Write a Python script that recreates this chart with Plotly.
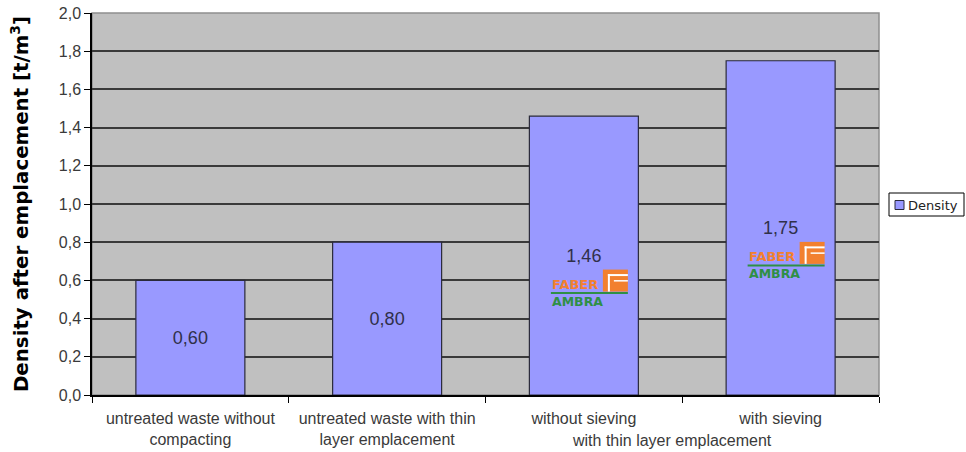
import plotly.graph_objects as go

# Bulk density of the waste body after emplacement, per treatment variant
categories = [
    "untreated waste without<br>compacting",
    "untreated waste with thin<br>layer emplacement",
    "without sieving",
    "with sieving",
]
density = [0.60, 0.80, 1.46, 1.75]
series_name = "Density"
group_label = "with thin layer emplacement"   # spans the last two categories
group_members = [2, 3]
logo_bars = [2, 3]                             # bars carrying the FABER AMBRA mark
y_ticks = [0.0, 0.2, 0.4, 0.6, 0.8, 1.0, 1.2, 1.4, 1.6, 1.8, 2.0]

BAR_COLOR = "#9999FF"
PLOT_BG = "#C0C0C0"
ORANGE = "#F2802F"
GREEN = "#2F8F45"
TEXT = "#3a3a3a"

fig = go.Figure()
fig.add_trace(go.Bar(
    x=categories,
    y=density,
    name=series_name,
    marker=dict(color=BAR_COLOR, line=dict(color="#2a2a3a", width=1.2)),
    texttemplate="%{y:.2f}",
    textposition="inside",
    insidetextanchor="middle",
    textangle=0,
    constraintext="none",
    textfont=dict(family="Liberation Sans, Arial", size=18, color="#30304a"),
    showlegend=False,
    hoverinfo="skip",
))

shapes = []
annotations = []

# plot-area frame (grey), sits over the grid but under the bars
shapes.append(dict(type="rect", xref="paper", yref="paper", x0=0, x1=1, y0=0, y1=1,
                   line=dict(color="#8f8f8f", width=1.5), layer="between"))


def logo_rect(xa, ya, x0, x1, y0, y1, color):
    return dict(type="rect", xref="x", yref="y", xsizemode="pixel", ysizemode="pixel",
                xanchor=xa, yanchor=ya, x0=x0, x1=x1, y0=y0, y1=y1,
                fillcolor=color, line=dict(width=0), layer="above")


# FABER AMBRA mark inside the tall bars, placed relative to the value label
for i in logo_bars:
    xa = i
    ya = density[i] / 2
    # orange square icon with a white "F" cut into it
    shapes.append(logo_rect(xa, ya, 19, 44, -36, -14, ORANGE))
    shapes.append(logo_rect(xa, ya, 24, 44, -20.5, -18.5, "white"))
    shapes.append(logo_rect(xa, ya, 24, 26, -36, -18.5, "white"))
    shapes.append(logo_rect(xa, ya, 30, 44, -26, -24.5, "white"))
    # green rule under the wordmark
    shapes.append(dict(type="line", xref="x", yref="y", xsizemode="pixel", ysizemode="pixel",
                       xanchor=xa, yanchor=ya, x0=-33, x1=44, y0=-37.5, y1=-37.5,
                       line=dict(color=GREEN, width=2), layer="above"))
    annotations.append(dict(x=xa, y=ya, xref="x", yref="y", text="<b>FABER</b>",
                            showarrow=False, xanchor="left", yanchor="middle",
                            xshift=-34, yshift=-29,
                            font=dict(family="DejaVu Sans", size=13, color=ORANGE)))
    annotations.append(dict(x=xa, y=ya, xref="x", yref="y", text="<b>AMBRA</b>",
                            showarrow=False, xanchor="left", yanchor="middle",
                            xshift=-34, yshift=-46,
                            font=dict(family="DejaVu Sans", size=12.5, color=GREEN)))

# second-level category label under the two sieving variants
annotations.append(dict(
    x=sum(group_members) / len(group_members), y=-0.12, xref="x", yref="paper",
    text=group_label, showarrow=False, xanchor="center", yanchor="middle", xshift=-10,
    font=dict(family="Liberation Sans, Arial", size=16, color=TEXT),
))

# legend box drawn to the right of the plot area
px = lambda p: (p - 92) / 787
py = lambda p: (395 - p) / 382
shapes.append(dict(type="rect", xref="paper", yref="paper",
                   x0=px(889), x1=px(964), y0=py(216), y1=py(193),
                   fillcolor="white", line=dict(color="black", width=1)))
shapes.append(dict(type="rect", xref="paper", yref="paper",
                   x0=px(895), x1=px(904), y0=py(209.5), y1=py(200.5),
                   fillcolor=BAR_COLOR, line=dict(color="#2a2a3a", width=1)))
annotations.append(dict(x=px(906), y=py(205), xref="paper", yref="paper",
                        text=series_name, showarrow=False, xanchor="left", yanchor="middle",
                        font=dict(family="DejaVu Sans", size=13, color="#222222")))

fig.update_layout(
    width=966, height=452,
    margin=dict(l=92, r=87, t=13, b=57, autoexpand=False),
    paper_bgcolor="white",
    plot_bgcolor=PLOT_BG,
    separators=", ",
    bargap=0.446,
    shapes=shapes,
    annotations=annotations,
    showlegend=False,
)
fig.update_xaxes(
    type="category",
    tickson="boundaries",
    ticks="outside", ticklen=6, tickwidth=1.2, tickcolor="black",
    ticklabelstandoff=8,
    showline=True, linecolor="black", linewidth=1.5,
    showgrid=False,
    tickfont=dict(family="Liberation Sans, Arial", size=16, color=TEXT),
)
fig.update_yaxes(
    range=[0, 2.0],
    tickvals=y_ticks,
    tickformat=".1f",
    ticks="outside", ticklen=6, tickwidth=1.2, tickcolor="black",
    showline=True, linecolor="black", linewidth=1.5,
    showgrid=True, gridcolor="#3a3a3a", gridwidth=1.6,
    zeroline=False,
    tickfont=dict(family="Liberation Sans, Arial", size=16, color=TEXT),
    title=dict(text="Density after emplacement [t/m<sup>3</sup>]", standoff=25,
               font=dict(family="DejaVu Sans", size=19.8, color="black", weight="bold")),
)

fig.write_html("out.html")
